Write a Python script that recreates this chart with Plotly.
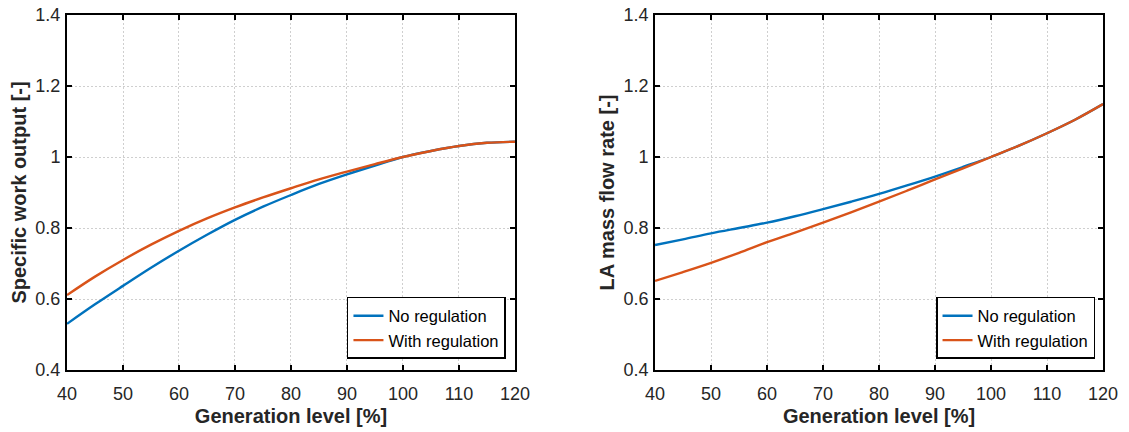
import plotly.graph_objects as go

generation = [40, 45, 50, 55, 60, 65, 70, 75, 80, 85, 90, 95, 100, 105, 110, 115, 120]

work_no_reg = [0.530, 0.585, 0.637, 0.688, 0.736, 0.781, 0.823, 0.860, 0.893, 0.924,
               0.951, 0.976, 1.000, 1.017, 1.031, 1.040, 1.043]
work_with_reg = [0.611, 0.663, 0.710, 0.753, 0.792, 0.827, 0.858, 0.886, 0.912, 0.937,
                 0.959, 0.980, 1.000, 1.017, 1.031, 1.040, 1.043]

flow_no_reg = [0.752, 0.768, 0.785, 0.800, 0.815, 0.833, 0.853, 0.874, 0.896, 0.920,
               0.945, 0.972, 1.000, 1.032, 1.067, 1.105, 1.149]
flow_with_reg = [0.651, 0.676, 0.702, 0.730, 0.760, 0.787, 0.815, 0.844, 0.874, 0.905,
                 0.937, 0.968, 1.000, 1.032, 1.067, 1.105, 1.149]

x_ticks = [40, 50, 60, 70, 80, 90, 100, 110, 120]
y_ticks = [0.4, 0.6, 0.8, 1.0, 1.2, 1.4]
y_tick_labels = ["0.4", "0.6", "0.8", "1", "1.2", "1.4"]

series_names = ["No regulation", "With regulation"]
colors = ["#0072BD", "#D95319"]

FONT = "Liberation Sans, Arial, Helvetica, sans-serif"
TXT = "#262626"

fig = go.Figure()

for name, vals, col in zip(series_names, [work_no_reg, work_with_reg], colors):
    fig.add_trace(go.Scatter(x=generation, y=vals, name=name, mode="lines",
                             line=dict(color=col, width=2.4, shape="spline"),
                             xaxis="x", yaxis="y", legend="legend"))
for name, vals, col in zip(series_names, [flow_no_reg, flow_with_reg], colors):
    fig.add_trace(go.Scatter(x=generation, y=vals, name=name, mode="lines",
                             line=dict(color=col, width=2.4, shape="spline"),
                             xaxis="x2", yaxis="y2", legend="legend2"))

def xaxis(domain, anchor):
    return dict(domain=domain, anchor=anchor, range=[40, 120], tickvals=x_ticks,
                showline=True, linecolor="black", linewidth=2, mirror="ticks",
                ticks="inside", ticklen=5, tickwidth=2, tickcolor="black",
                showgrid=True, gridcolor="#cfcfcf", griddash="2px,2px", gridwidth=1,
                zeroline=False, automargin=False, ticklabeloverflow="allow",
                tickfont=dict(family=FONT, size=18, color=TXT),
                ticklabelstandoff=6,
                title=dict(text="Generation level [%]", standoff=6,
                           font=dict(family=FONT, size=20, color=TXT, weight="bold")))

def yaxis(domain, anchor, title):
    return dict(domain=domain, anchor=anchor, range=[0.4, 1.4], tickvals=y_ticks,
                ticktext=y_tick_labels,
                showline=True, linecolor="black", linewidth=2, mirror="ticks",
                ticks="inside", ticklen=5, tickwidth=2, tickcolor="black",
                showgrid=True, gridcolor="#cfcfcf", griddash="2px,2px", gridwidth=1,
                zeroline=False, automargin=False, ticklabeloverflow="allow",
                tickfont=dict(family=FONT, size=18, color=TXT),
                ticklabelstandoff=1,
                title=dict(text=title, standoff=3,
                           font=dict(family=FONT, size=20, color=TXT, weight="bold")))

legend_common = dict(xanchor="right", yanchor="bottom", bgcolor="white",
                     bordercolor="black", borderwidth=1.5,
                     font=dict(family=FONT, size=16.5, color="black"),
                     tracegroupgap=0, itemwidth=30)

# page body has an 8px margin, so the figure is offset by 8px right/down
fig.update_layout(
    width=1129, height=432,
    margin=dict(l=59, r=34, t=7, b=70),
    paper_bgcolor="white", plot_bgcolor="white",
    template="none",
    xaxis=xaxis([0, 0.4324], "y"),
    yaxis=yaxis([0, 1], "x", "Specific work output [-]"),
    xaxis2=xaxis([0.5676, 1.0], "y2"),
    yaxis2=yaxis([0, 1], "x2", "LA mass flow rate [-]"),
    legend=dict(x=0.4237, y=0.031, **legend_common),
    legend2=dict(x=0.9923, y=0.031, **legend_common),
)

fig.write_html("out.html")
